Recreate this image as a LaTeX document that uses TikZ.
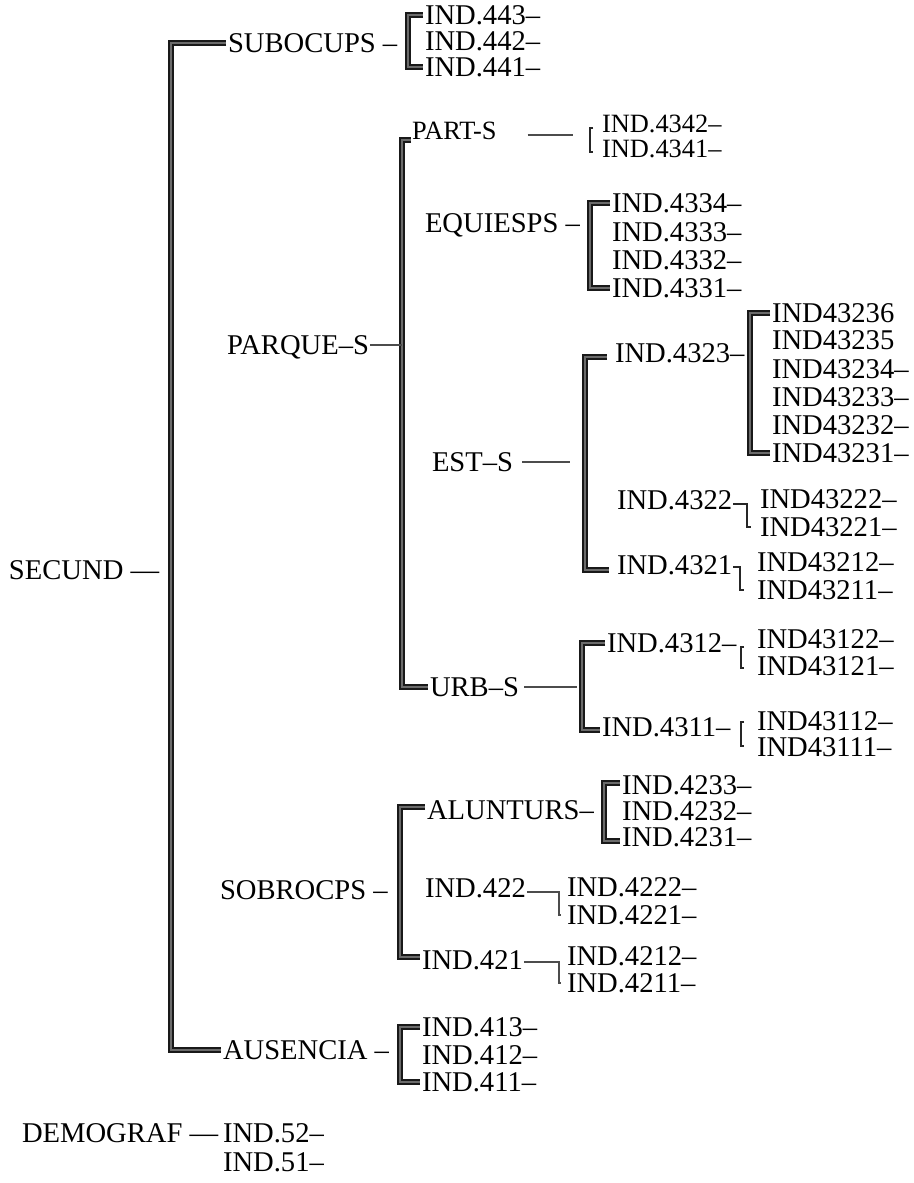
\documentclass[tikz,border=0pt]{standalone}
\usepackage{fontspec}
\setmainfont{Liberation Serif}
\begin{document}
\begin{tikzpicture}[x=0.5pt,y=-0.5pt,
  lab/.style={anchor=west, inner sep=0.5pt, outer sep=0pt, text height=9.5pt, text depth=0pt,
              font=\fontsize{14.3pt}{16pt}\selectfont},
  labs/.style={lab, text height=8.8pt, font=\fontsize{13.2pt}{15pt}\selectfont},
  br/.style={draw=black!90, line width=0.8pt, double=black!58, double distance=1pt, line join=miter},
  tl/.style={draw=black!70, line width=1pt},
  tb/.style={draw=black!85, line width=0.9pt}]
\useasboundingbox (0,0) rectangle (914,1183);

% ---------- labels ----------
\node[lab] (secund) at (8,570) {SECUND —};
\node[lab] (subocups) at (227,43) {SUBOCUPS –};
\node[lab] (i443) at (424,15) {IND.443–};
\node[lab] (i442) at (424,41) {IND.442–};
\node[lab] (i441) at (424,67) {IND.441–};

\node[lab] (parques) at (226,345) {PARQUE–S};
\node[labs] (parts) at (411,131) {PART-S};
\node[labs] (i4342) at (601,124) {IND.4342–};
\node[labs] (i4341) at (601,149) {IND.4341–};

\node[lab] (equiesps) at (424,223) {EQUIESPS –};
\node[lab] (i4334) at (611,203) {IND.4334–};
\node[lab] (i4333) at (611,232) {IND.4333–};
\node[lab] (i4332) at (611,260) {IND.4332–};
\node[lab] (i4331) at (611,288) {IND.4331–};

\node[lab] (ests) at (431,462) {EST–S};
\node[lab] (i4323) at (614,353) {IND.4323–};
\node[lab] (i43236) at (771,313) {IND43236};
\node[lab] (i43235) at (771,340) {IND43235};
\node[lab] (i43234) at (771,369) {IND43234–};
\node[lab] (i43233) at (771,397) {IND43233–};
\node[lab] (i43232) at (771,425) {IND43232–};
\node[lab] (i43231) at (771,453) {IND43231–};
\node[lab] (i4322) at (616,500) {IND.4322};
\node[lab] (i43222) at (759,499) {IND43222–};
\node[lab] (i43221) at (759,527) {IND43221–};
\node[lab] (i4321) at (616,565) {IND.4321};
\node[lab] (i43212) at (756,562) {IND43212–};
\node[lab] (i43211) at (756,590) {IND43211–};

\node[lab] (urbs) at (429,687) {URB–S};
\node[lab] (i4312) at (606,643) {IND.4312–};
\node[lab] (i43122) at (756,639) {IND43122–};
\node[lab] (i43121) at (756,666) {IND43121–};
\node[lab] (i4311) at (601,727) {IND.4311–};
\node[lab] (i43112) at (756,721) {IND43112–};
\node[lab] (i43111) at (756,747) {IND43111–};

\node[lab] (sobrocps) at (219,890) {SOBROCPS –};
\node[lab] (alunturs) at (426,810) {ALUNTURS–};
\node[lab] (i4233) at (621,785) {IND.4233–};
\node[lab] (i4232) at (621,811) {IND.4232–};
\node[lab] (i4231) at (621,837) {IND.4231–};
\node[lab] (i422) at (424,888) {IND.422};
\node[lab] (i4222) at (566,887) {IND.4222–};
\node[lab] (i4221) at (566,915) {IND.4221–};
\node[lab] (i421) at (421,960) {IND.421};
\node[lab] (i4212) at (566,956) {IND.4212–};
\node[lab] (i4211) at (566,983) {IND.4211–};

\node[lab] (ausencia) at (222,1050) {AUSENCIA –};
\node[lab] (i413) at (421,1027) {IND.413–};
\node[lab] (i412) at (421,1055) {IND.412–};
\node[lab] (i411) at (421,1082) {IND.411–};

\node[lab] (demograf) at (21,1133) {DEMOGRAF —};
\node[lab] (i52) at (222,1133) {IND.52–};
\node[lab] (i51) at (222,1162) {IND.51–};

% ---------- bracket spines ----------
\coordinate (bxmain) at (171,570);
\coordinate (bx44) at (408,41);
\coordinate (bxpq) at (402,400);
\coordinate (bxeq) at (590,245);
\coordinate (bxest) at (585,460);
\coordinate (bx4323) at (750,383);
\coordinate (bx4322) at (747,513);
\coordinate (bx4321) at (740,578);
\coordinate (bxurb) at (582,687);
\coordinate (bxsob) at (400,890);
\coordinate (bxal) at (604,810);
\coordinate (bx422) at (559,903);
\coordinate (bx421) at (559,970);
\coordinate (bxau) at (400,1055);

% ---------- heavy brackets ----------
\draw[br] ([xshift=-0.5pt]subocups.west) -| (bxmain) |- ([xshift=-0.5pt]ausencia.west);
\draw[br] ([xshift=-0.5pt]i443.west) -| (bx44) |- ([xshift=-0.5pt]i441.west);
\draw[br] ([yshift=-4.5pt]parts.west) -| (bxpq) |- ([xshift=-0.5pt]urbs.west);
\draw[br] ([xshift=-0.5pt]i4334.west) -| (bxeq) |- ([xshift=-0.5pt]i4331.west);
\draw[br] ([xshift=-3.5pt,yshift=-2pt]i4323.west) -| (bxest) |- ([xshift=-3.5pt,yshift=-2.5pt]i4321.west);
\draw[br] ([xshift=-0.5pt]i43236.west) -| (bx4323) |- ([xshift=-0.5pt]i43231.west);
\draw[br] ([xshift=-0.5pt]i4312.west) -| (bxurb) |- ([xshift=-0.5pt,yshift=-1.5pt]i4311.west);
\draw[br] ([xshift=-0.5pt,yshift=1.5pt]alunturs.west) -| (bxsob) |- ([xshift=-0.5pt,yshift=1.5pt]i421.west);
\draw[br] ([xshift=-0.5pt,yshift=1pt]i4233.west) -| (bxal) |- ([xshift=-0.5pt,yshift=-2pt]i4231.west);
\draw[br] ([xshift=-0.5pt]i413.west) -| (bxau) |- ([xshift=-0.5pt]i411.west);

% ---------- thin connectors ----------
\draw[tl] (parques.east) -- (parques.east -| bxpq);
\draw[tl] ([xshift=15pt,yshift=-2pt]parts.east) -- ++(22.5pt,0);
\draw[tl, shorten >=7.5pt] ([xshift=4pt]ests.east) -- (ests.east -| bxest);
\draw[tl, shorten >=2.5pt] ([xshift=2pt]urbs.east) -- (urbs.east -| bxurb);
\draw[tl] ([yshift=-2pt]i422.east) -| (bx422) |- ([xshift=-2.5pt]i4221.west);
\draw[tl] ([yshift=-1pt]i421.east) -| (bx421) |- ([xshift=-2.5pt]i4211.west);

% ---------- thin small brackets ----------
\draw[tb] ([xshift=-4pt,yshift=-2pt]i4342.west) -- ([xshift=-5.5pt,yshift=-2pt]i4342.west)
          -- ([xshift=-5.5pt,yshift=-1.5pt]i4341.west) -- ([xshift=-4pt,yshift=-1.5pt]i4341.west);
\draw[tb] ([yshift=-2pt]i4322.east) -| (bx4322) |- ([xshift=-4pt]i43221.west);
\draw[tb] ([yshift=-1pt]i4321.east) -| (bx4321) |- ([xshift=-6pt]i43211.west);
\draw[tb] ([xshift=-6pt,yshift=-4pt]i43122.west) -- ([xshift=-7.5pt,yshift=-4pt]i43122.west)
          -- ([xshift=-7.5pt,yshift=-1pt]i43121.west) -- ([xshift=-6pt,yshift=-1pt]i43121.west);
\draw[tb] ([xshift=-6pt,yshift=-0.5pt]i43112.west) -- ([xshift=-7.5pt,yshift=-0.5pt]i43112.west)
          -- ([xshift=-7.5pt,yshift=0.5pt]i43111.west) -- ([xshift=-6pt,yshift=0.5pt]i43111.west);
\end{tikzpicture}
\end{document}
